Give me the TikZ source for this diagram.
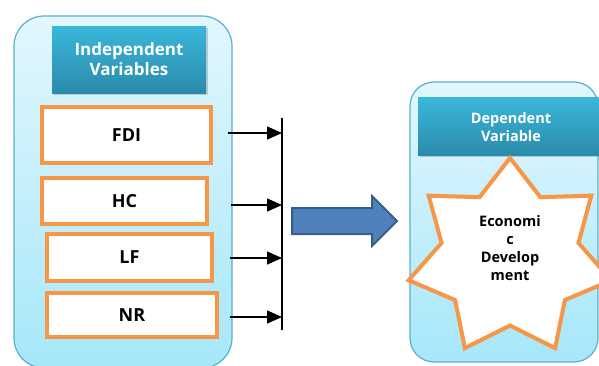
\documentclass[tikz,border=0pt]{standalone}
\usepackage{fontspec}
\setmainfont{Open Sans}
\usetikzlibrary{arrows.meta,shadows}
\definecolor{contborder}{HTML}{5AB0CA}
\definecolor{conttop}{HTML}{E2F7FD}
\definecolor{contbot}{HTML}{A6E7FA}
\definecolor{headtop}{HTML}{3AB7DB}
\definecolor{headbot}{HTML}{2A8BAB}
\definecolor{orng}{HTML}{F79646}
\definecolor{arrfill}{HTML}{4F81BD}
\definecolor{arrdraw}{HTML}{385D8A}
\tikzset{
  container/.style={draw=contborder,line width=1.2pt,top color=conttop,bottom color=contbot},
  header/.style={top color=headtop,bottom color=headbot,drop shadow={opacity=0.35,shadow xshift=2pt,shadow yshift=-2pt}},
  headtext/.style={text=white,font=\bfseries\fontsize{14.5}{18.5}\selectfont,align=center},
  varbox/.style={draw=orng,line width=4pt,fill=white,font=\bfseries\fontsize{18}{20}\selectfont,anchor=north west,inner sep=0pt},
  conn/.style={line width=1.5pt,-{Triangle[length=15pt,width=13pt]}},
  bar/.style={line width=1.5pt},
  blockarrow/.style={fill=arrfill,draw=arrdraw,line width=2pt,line join=miter},
  starstyle/.style={draw=orng,line width=4pt,fill=white,line join=miter}
}
\begin{document}
\begin{tikzpicture}[x=1pt,y=-1pt]
\useasboundingbox (0,0) rectangle (599,365);
\clip (0,0) rectangle (599,365);
% left container
\draw[container,rounded corners=30pt] (14,16) rectangle (232,368);
\fill[header] (52,26) rectangle (206,93);
\node[headtext,font=\bfseries\fontsize{17}{20}\selectfont] (indep) at (129,59) {Independent\\Variables};
% variable boxes
\node[varbox,minimum width=169pt,minimum height=56pt] (fdi) at (40,105) {FDI};
\node[varbox,minimum width=165pt,minimum height=46pt] (hc) at (40,176) {HC};
\node[varbox,minimum width=165pt,minimum height=47pt] (lf) at (45,232) {LF};
\node[varbox,minimum width=170pt,minimum height=44pt] (nr) at (45,291) {NR};
% bar and connectors
\coordinate (bartop) at (282,118);
\coordinate (barbot) at (282,330);
\draw[bar] (bartop) -- (barbot);
\coordinate (s1) at (228,133); \coordinate (e1) at (282,133);
\coordinate (s2) at (231,205); \coordinate (e2) at (282,205);
\coordinate (s3) at (230,258); \coordinate (e3) at (282,258);
\coordinate (s4) at (230,317); \coordinate (e4) at (282,317);
\draw[conn] (s1) -- (e1);
\draw[conn] (s2) -- (e2);
\draw[conn] (s3) -- (e3);
\draw[conn] (s4) -- (e4);
% block arrow
\draw[blockarrow] (292,208) -- (372,208) -- (372,196) -- (397,221) -- (372,246) -- (372,234) -- (292,234) -- cycle;
% right container
\draw[container,rounded corners=24pt] (410,82) rectangle (598,362);
\fill[header] (418,97) rectangle (606,155);
\node[headtext] (dep) at (511,127) {Dependent\\Variable};
% star
\begin{scope}[shift={(510,258)}]
\draw[starstyle] (90:104pt and 100pt)
  \foreach \i in {0,...,6} { -- ({90+\i*360/7}:104pt and 100pt) -- ({90+\i*360/7+360/14}:70.2pt and 67.5pt) } -- cycle;
\end{scope}
\node[align=center,font=\bfseries\fontsize{14.5}{18}\selectfont] (econ) at (510,248) {Economi\\c\\Develop\\ment};
\end{tikzpicture}
\end{document}
